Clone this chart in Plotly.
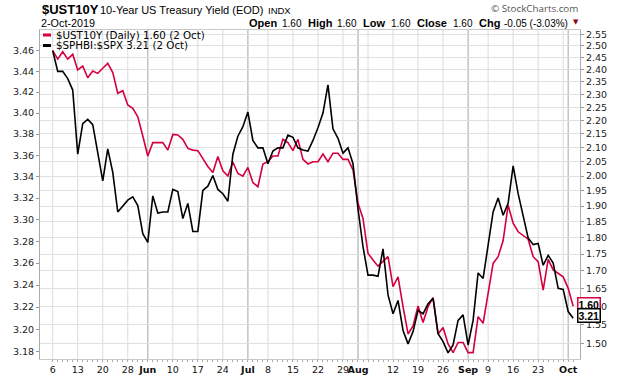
import numpy as np
import pandas as pd
import plotly.graph_objects as go

# ---------------- data ----------------
holidays = ["2019-05-27", "2019-07-04", "2019-09-02"]
dates = [d.strftime("%Y-%m-%d") for d in pd.bdate_range("2019-05-06", "2019-10-02")
         if d.strftime("%Y-%m-%d") not in holidays]

ust10y = [2.480, 2.444, 2.475, 2.444, 2.464, 2.399, 2.415, 2.367, 2.395, 2.385,
          2.406, 2.426, 2.388, 2.305, 2.315, 2.259, 2.246, 2.214, 2.142, 2.070,
          2.118, 2.118, 2.118, 2.091, 2.148, 2.146, 2.130, 2.097, 2.091, 2.089,
          2.062, 2.033, 2.012, 2.068, 2.018, 2.000, 2.049, 2.009, 2.000, 2.030,
          1.978, 1.964, 2.042, 2.050, 2.070, 2.070, 2.130, 2.118, 2.089, 2.130,
          2.058, 2.042, 2.050, 2.050, 2.077, 2.050, 2.080, 2.080, 2.058, 2.058,
          2.021, 1.909, 1.860, 1.752, 1.732, 1.714, 1.728, 1.742, 1.655, 1.683,
          1.599, 1.526, 1.547, 1.601, 1.556, 1.599, 1.624, 1.526, 1.543, 1.500,
          1.478, 1.504, 1.504, 1.478, 1.478, 1.572, 1.554, 1.636, 1.722, 1.742,
          1.791, 1.903, 1.845, 1.818, 1.805, 1.795, 1.742, 1.727, 1.645, 1.734,
          1.703, 1.693, 1.683, 1.650, 1.600]

sphbi_spx = [3.460, 3.440, 3.440, 3.433, 3.422, 3.361, 3.390, 3.394, 3.389, 3.362,
             3.336, 3.366, 3.344, 3.307, 3.312, 3.318, 3.321, 3.313, 3.287, 3.279,
             3.322, 3.306, 3.307, 3.307, 3.328, 3.326, 3.301, 3.315, 3.289, 3.289,
             3.327, 3.331, 3.341, 3.328, 3.324, 3.317, 3.361, 3.378, 3.387, 3.401,
             3.374, 3.367, 3.367, 3.352, 3.364, 3.367, 3.367, 3.379, 3.377, 3.367,
             3.365, 3.364, 3.374, 3.386, 3.400, 3.427, 3.385, 3.376, 3.362, 3.367,
             3.352, 3.310, 3.275, 3.249, 3.249, 3.248, 3.273, 3.231, 3.214, 3.226,
             3.199, 3.187, 3.198, 3.217, 3.214, 3.223, 3.228, 3.196, 3.189, 3.179,
             3.186, 3.208, 3.213, 3.186, 3.208, 3.251, 3.246, 3.278, 3.307, 3.320,
             3.304, 3.315, 3.350, 3.324, 3.303, 3.283, 3.277, 3.278, 3.258, 3.267,
             3.260, 3.237, 3.236, 3.216, 3.210]

week_dates = ["2019-05-06", "2019-05-13", "2019-05-20", "2019-05-28", "2019-06-03",
              "2019-06-10", "2019-06-17", "2019-06-24", "2019-07-01", "2019-07-08",
              "2019-07-15", "2019-07-22", "2019-07-29", "2019-08-01", "2019-08-05",
              "2019-08-12", "2019-08-19", "2019-08-26", "2019-09-03", "2019-09-09",
              "2019-09-16", "2019-09-23", "2019-09-30", "2019-10-01"]
week_labels = ["6", "13", "20", "28", "<b>Jun</b>", "10", "17", "24", "<b>Jul</b>", "8",
               "15", "22", "29", "<b>Aug</b>", "", "12", "19", "26", "<b>Sep</b>", "9",
               "16", "23", "", "<b>Oct</b>"]
month_dates = ["2019-06-03", "2019-07-01", "2019-08-01", "2019-09-03", "2019-10-01"]

left_ticks = [3.18, 3.20, 3.22, 3.24, 3.26, 3.28, 3.30, 3.32, 3.34, 3.36, 3.38, 3.40, 3.42, 3.44, 3.46]
right_ticks = [1.50, 1.55, 1.60, 1.65, 1.70, 1.75, 1.80, 1.85, 1.90, 1.95, 2.00, 2.05,
               2.10, 2.15, 2.20, 2.25, 2.30, 2.35, 2.40, 2.45, 2.50, 2.55]

# header quote strip (label, value)
quote_labels = ["Open", "High", "Low", "Close", "Chg"]
quote_values = ["1.60", "1.60", "1.60", "1.60", "-0.05 (-3.03%)"]

RED = "#d4003c"
W, H = 620, 376
ML, MR, MT, MB = 40, 40, 30, 17
PW, PH = W - ML - MR, H - MT - MB


def px(x):
    return (x - ML) / PW


def py(y):
    return (H - MB - y) / PH


label_of = dict(zip(week_dates, week_labels))
all_ticktext = [label_of.get(d, "") for d in dates]

fig = go.Figure()
fig.add_trace(go.Scatter(x=dates, y=ust10y, mode="lines", yaxis="y",
                         line=dict(color=RED, width=1.6), name="$UST10Y"))
fig.add_trace(go.Scatter(x=dates, y=sphbi_spx, mode="lines", yaxis="y2",
                         line=dict(color="#000000", width=1.6), name="$SPHBI:$SPX"))

shapes = []
for d in week_dates:
    shapes.append(dict(type="line", xref="x", yref="paper", x0=d, x1=d, y0=0, y1=1,
                       line=dict(color="#dcdcdc", width=1), layer="below"))
for d in month_dates:
    shapes.append(dict(type="line", xref="x", yref="paper", x0=d, x1=d, y0=0, y1=1,
                       line=dict(color="#b4b4b4", width=1), layer="below"))
# legend glyphs
shapes.append(dict(type="line", xref="paper", yref="paper", x0=px(43), x1=px(51),
                   y0=py(35), y1=py(35), line=dict(color=RED, width=3)))
shapes.append(dict(type="line", xref="paper", yref="paper", x0=px(43), x1=px(51),
                   y0=py(45.5), y1=py(45.5), line=dict(color="#000", width=3)))

tick_font = dict(family="DejaVu Sans", size=9.5, color="#222")
annotations = [
    dict(xref="paper", yref="paper", x=px(40), y=py(9), xanchor="left", yanchor="middle",
         text="<b>$UST10Y</b>", showarrow=False,
         font=dict(family="Liberation Sans", size=13, color="#000")),
    dict(xref="paper", yref="paper", x=px(98), y=py(9.5), xanchor="left", yanchor="middle",
         text="10-Year US Treasury Yield (EOD)", showarrow=False,
         font=dict(family="Liberation Sans", size=11, color="#000")),
    dict(xref="paper", yref="paper", x=px(266), y=py(10), xanchor="left", yanchor="middle",
         text="INDX", showarrow=False,
         font=dict(family="Liberation Sans", size=9.5, color="#000")),
    dict(xref="paper", yref="paper", x=px(39), y=py(22.5), xanchor="left", yanchor="middle",
         text="2-Oct-2019", showarrow=False,
         font=dict(family="Liberation Sans", size=10.8, color="#000")),
    dict(xref="paper", yref="paper", x=px(571), y=py(22), xanchor="left", yanchor="middle",
         text="▼", showarrow=False, font=dict(family="DejaVu Sans", size=7, color="#8b0020")),
    dict(xref="paper", yref="paper", x=px(580), y=py(8.5), xanchor="right", yanchor="middle",
         text="© StockCharts.com", showarrow=False,
         font=dict(family="Open Sans", size=9.8, color="#555")),
    dict(xref="paper", yref="paper", x=px(54), y=py(35), xanchor="left", yanchor="middle",
         text="$UST10Y (Daily) 1.60 (2 Oct)", showarrow=False,
         font=dict(family="DejaVu Sans", size=10.3, color="#000")),
    dict(xref="paper", yref="paper", x=px(54), y=py(45.5), xanchor="left", yanchor="middle",
         text="$SPHBI:$SPX 3.21 (2 Oct)", showarrow=False,
         font=dict(family="DejaVu Sans", size=10.3, color="#000")),
    # end-value boxes
    dict(xref="paper", yref="y", x=1, y=np.log10(ust10y[-1]), xanchor="left", yanchor="middle",
         xshift=-3, yshift=2, text="<b>" + f"{ust10y[-1]:.2f}" + "</b>", showarrow=False,
         bgcolor="#fff", bordercolor=RED, borderwidth=1.5, borderpad=0,
         font=dict(family="Liberation Sans", size=10.5, color="#000")),
    dict(xref="paper", yref="y2", x=1, y=np.log10(sphbi_spx[-1]), xanchor="left", yanchor="middle",
         xshift=-3, yshift=3, text="<b>" + f"{sphbi_spx[-1]:.2f}" + "</b>", showarrow=False,
         bgcolor="#fff", bordercolor="#000", borderwidth=1.5, borderpad=0,
         font=dict(family="Liberation Sans", size=10.5, color="#000")),
]

label_x = [247, 306, 361, 415, 477]
value_x = [280, 335, 389, 451, 502]
for lab, val, lx, vx in zip(quote_labels, quote_values, label_x, value_x):
    annotations.append(dict(xref="paper", yref="paper", x=px(lx), y=py(22.5), xanchor="left",
                            yanchor="middle", text="<b>" + lab + "</b>", showarrow=False,
                            font=dict(family="Liberation Sans", size=11, color="#000")))
    annotations.append(dict(xref="paper", yref="paper", x=px(vx), y=py(23), xanchor="left",
                            yanchor="middle", text=val, showarrow=False,
                            font=dict(family="Liberation Sans", size=10, color="#000")))

fig.update_layout(
    width=W, height=H,
    margin=dict(l=ML, r=MR, t=MT, b=MB, autoexpand=False),
    paper_bgcolor="#fff", plot_bgcolor="#fff",
    showlegend=False,
    shapes=shapes, annotations=annotations,
    xaxis=dict(type="category", range=[-2.54, 105.36], tickmode="array",
               tickvals=dates, ticktext=all_ticktext, showgrid=False,
               ticks="outside", ticklen=2, tickcolor="#aaa", tickangle=0,
               showline=True, linecolor="#c8c8c8", mirror=True,
               tickfont=dict(family="DejaVu Sans", size=9.5, color="#111"),
               fixedrange=True),
    yaxis=dict(type="log", side="right",
               range=[np.log10(1.4619), np.log10(2.5689)],
               tickmode="array", tickvals=right_ticks,
               ticktext=[f"{v:.2f}" for v in right_ticks],
               showgrid=True, gridcolor="#e0e0e0", gridwidth=1,
               ticks="outside", ticklen=3, tickcolor="#999",
               showline=True, linecolor="#aaa", tickfont=tick_font, zeroline=False),
    yaxis2=dict(type="log", side="left", overlaying="y",
                range=[np.log10(3.1735), np.log10(3.4801)],
                tickmode="array", tickvals=left_ticks,
                ticktext=[f"{v:.2f}" for v in left_ticks],
                showgrid=False, ticks="outside", ticklen=3, tickcolor="#999",
                showline=True, linecolor="#aaa", tickfont=tick_font, zeroline=False),
)

fig.write_html("out.html", config={"displayModeBar": False},
               post_script="document.body.style.margin='0';document.body.style.overflow='hidden';")
